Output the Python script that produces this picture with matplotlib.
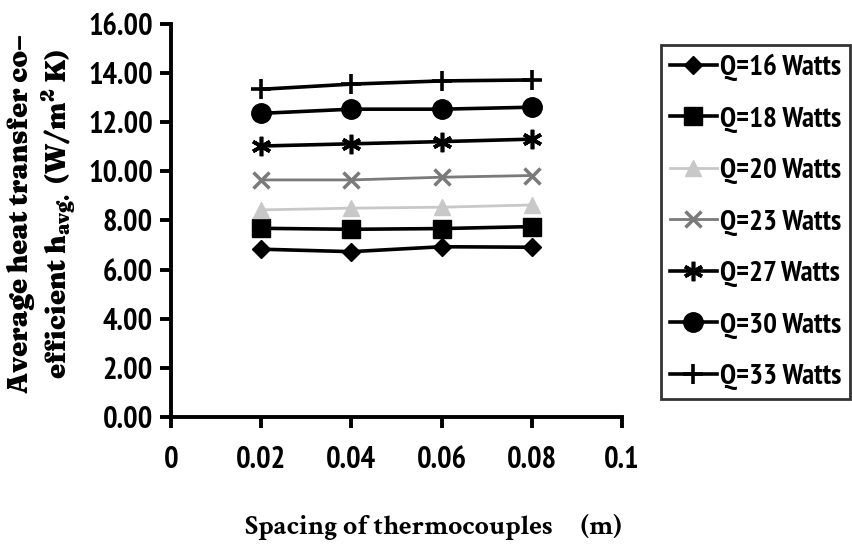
import numpy as np
import matplotlib
matplotlib.use('Agg')
import matplotlib.pyplot as plt

# spacing of thermocouples (m)
spacing = [0.02, 0.04, 0.06, 0.08]

# average heat transfer coefficient for each heat input
h_16w = [6.83, 6.73, 6.93, 6.91]
h_18w = [7.68, 7.64, 7.67, 7.75]
h_20w = [8.43, 8.50, 8.54, 8.63]
h_23w = [9.65, 9.65, 9.76, 9.83]
h_27w = [11.03, 11.12, 11.21, 11.31]
h_30w = [12.36, 12.53, 12.53, 12.61]
h_33w = [13.34, 13.55, 13.68, 13.72]

labels = ['Q=16 Watts', 'Q=18 Watts', 'Q=20 Watts', 'Q=23 Watts',
          'Q=27 Watts', 'Q=30 Watts', 'Q=33 Watts']
yticks = [0, 2, 4, 6, 8, 10, 12, 14, 16]
xticks = [0, 0.02, 0.04, 0.06, 0.08, 0.1]
xticklabels = ['0', '0.02', '0.04', '0.06', '0.08', '0.1']

narrow = ['PT Sans Narrow', 'DejaVu Sans']
heavy_serif = ['Fraunces', 'DejaVu Serif']
cond_serif = ['Crimson Text', 'DejaVu Serif']

fig = plt.figure(figsize=(8.52, 5.44), dpi=100)
ax = fig.add_axes([0.2007, 0.2335, 0.5293, 0.7225])

styles = [
    (h_16w, dict(color='black', marker='D', ms=9, lw=2.6)),
    (h_18w, dict(color='black', marker='s', ms=13, lw=2.6)),
    (h_20w, dict(color='#c8c8c8', marker='^', ms=12, lw=2.0)),
    (h_23w, dict(color='#7a7a7a', marker='x', ms=12, mew=2.5, lw=2.0)),
    (h_27w, dict(color='black', marker=(6, 2, 0), ms=14, mew=2.6, lw=2.6)),
    (h_30w, dict(color='black', marker='o', ms=14, lw=2.6)),
    (h_33w, dict(color='black', marker='+', ms=15, mew=2.6, lw=2.6)),
]
for (vals, st), lab in zip(styles, labels):
    ax.plot(spacing, vals, label=lab, **st)

ax.set_xlim(0, 0.1)
ax.set_ylim(0, 16)
ax.set_yticks(yticks)
ax.set_yticklabels(['%.2f' % v for v in yticks])
ax.set_xticks(xticks)
ax.set_xticklabels(xticklabels)
for sp in ['top', 'right']:
    ax.spines[sp].set_visible(False)
for sp in ['left', 'bottom']:
    ax.spines[sp].set_linewidth(2.8)
ax.tick_params(axis='both', direction='out', length=8, width=2.8, pad=5)
ax.tick_params(axis='x', pad=13)
for t in ax.get_xticklabels() + ax.get_yticklabels():
    t.set_family(narrow)
    t.set_weight('bold')
    t.set_fontsize(22)

# axis titles
fig.text(0.509, 0.032, 'Spacing of thermocouples     (m)', ha='center', va='center',
         family=cond_serif, weight='bold', fontsize=20)
plt.rcParams['mathtext.fontset'] = 'custom'
plt.rcParams['mathtext.rm'] = 'Fraunces:bold'
plt.rcParams['mathtext.bf'] = 'Fraunces:bold'
fig.text(0.025, 0.607, 'Average heat transfer co\u2013', rotation=90, ha='center', va='center',
         family=heavy_serif, weight='bold', fontsize=19.5)
fig.text(0.069, 0.607, r'efficient h$_{\mathbf{avg.}}$ (W/m$^{\mathbf{2}}$ K)', rotation=90,
         ha='center', va='center', family=heavy_serif, weight='bold', fontsize=19.5)

leg = fig.legend(loc='upper left', bbox_to_anchor=(0.776, 0.917), ncol=1,
                 prop={'family': narrow, 'weight': 'bold', 'size': 21},
                 handlelength=1.6, handletextpad=0.12, labelspacing=0.86,
                 borderpad=0.3, borderaxespad=0, fancybox=False, frameon=True)
leg.get_frame().set_edgecolor('black')
leg.get_frame().set_linewidth(2.0)

fig.savefig('out.png', dpi=100)
